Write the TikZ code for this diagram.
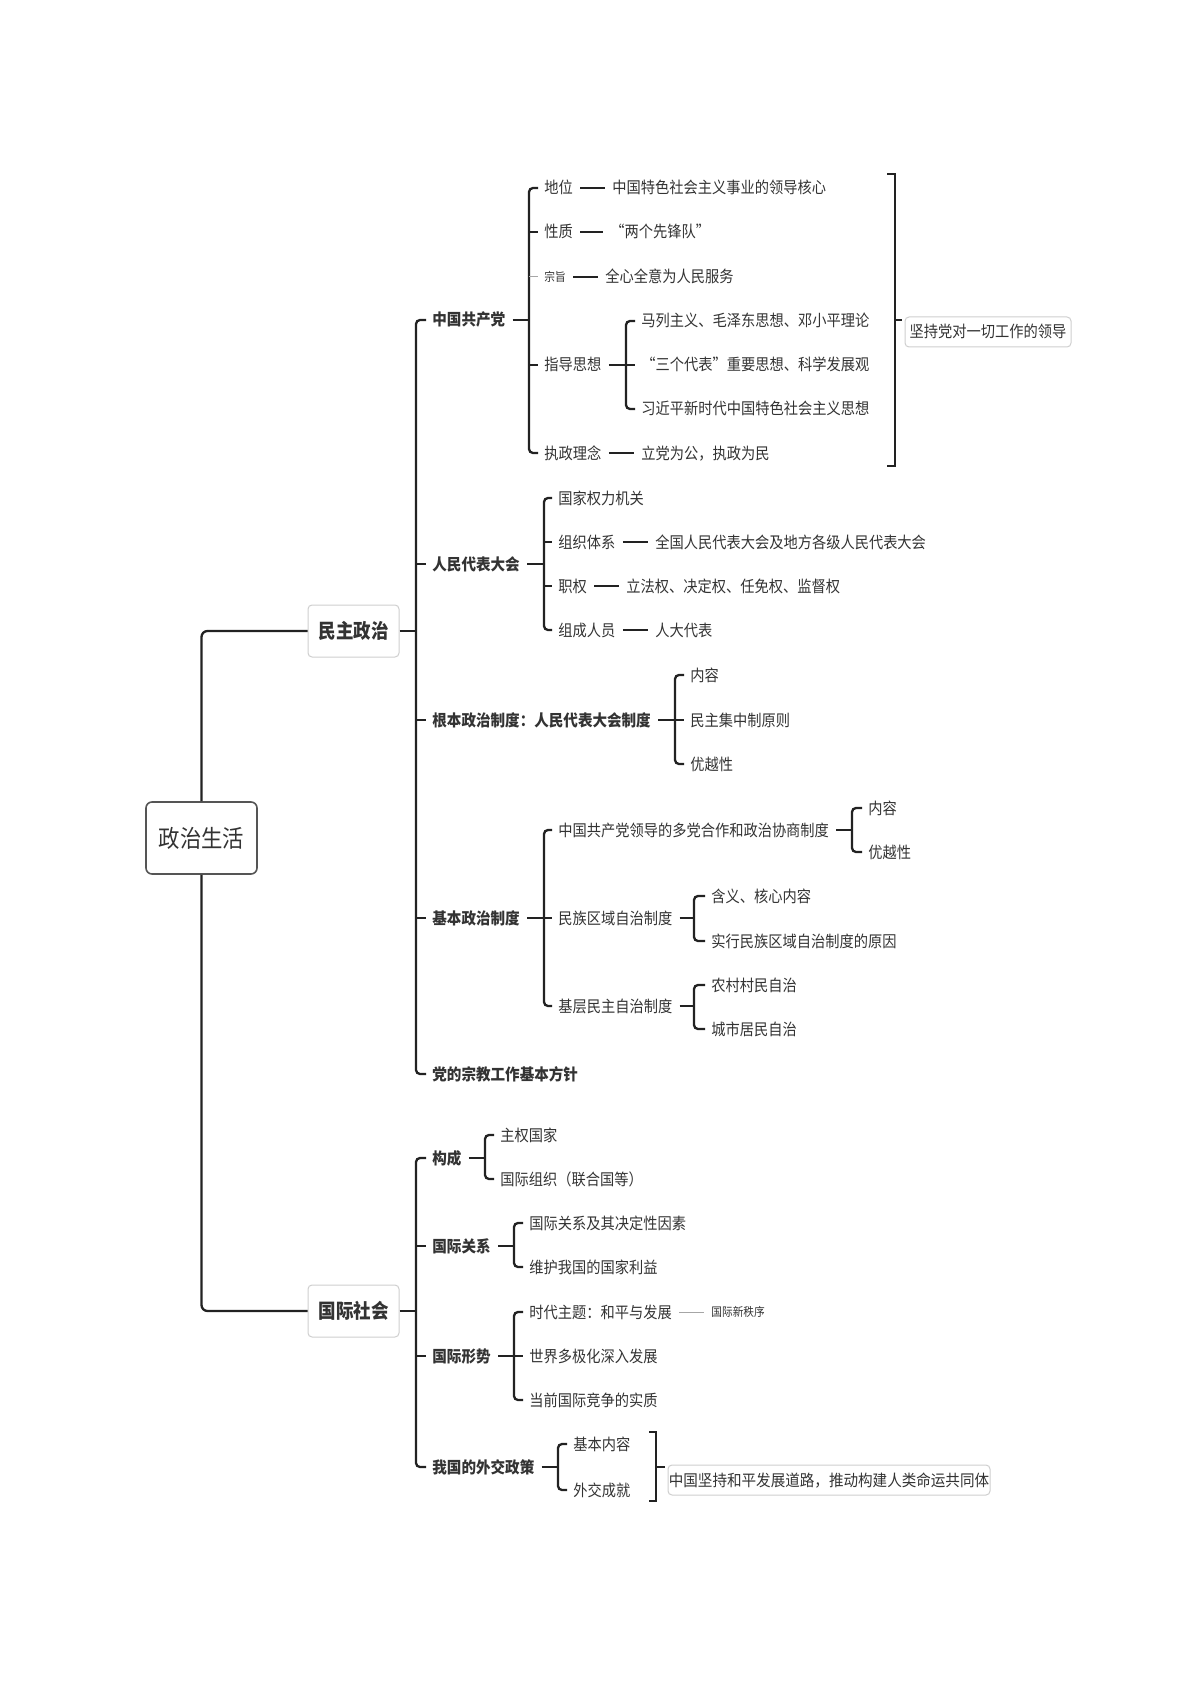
\documentclass[tikz,border=0pt]{standalone}
\usepackage{fontspec}
\usetikzlibrary{calc}
\setmainfont{Noto Sans CJK SC}[FakeStretch=0.89]
\newfontfamily\cjkw{Noto Sans CJK SC}[FakeStretch=0.91]
\newfontfamily\cjkh{Noto Sans CJK SC}[FakeStretch=0.875]
\definecolor{txt}{HTML}{333333}
\definecolor{lc}{HTML}{222222}
\definecolor{bgr}{HTML}{CFCFCF}
\definecolor{rootc}{HTML}{555555}
\newcommand{\mmBr}[3]{\draw[conn] ([xshift=-3pt]#1.west) -- (#1.west -| #3) -- (#2.west -| #3) -- ([xshift=-3pt]#2.west);}
\newcommand{\mmStub}[2]{\draw[conn] (#1.west -| #2) -- ([xshift=-3pt]#1.west);}
\newcommand{\mmPar}[2]{\draw[conn] ([xshift=3.5pt]#1.east) -- (#1.east -| #2);}
\newcommand{\mmLink}[2]{\draw[conn] ([xshift=3.5pt]#1.east) -- ([xshift=-3.5pt]#2.west);}
\begin{document}
\begin{tikzpicture}[x=0.5pt,y=-0.5pt,
  lab/.style={anchor=west, inner sep=0pt, text=txt, font=\fontsize{8}{10}\selectfont, text height=6.4pt, text depth=0.4pt},
  bl/.style={lab, font=\cjkw\bfseries\fontsize{8}{10}\selectfont},
  small/.style={lab, font=\fontsize{6}{7}\selectfont, text height=4.8pt, text depth=0.3pt},
  hub/.style={draw=bgr, fill=white, rounded corners=2pt, line width=0.5pt, minimum width=45.5pt, minimum height=26pt, inner sep=0pt, text=txt, font=\cjkh\bfseries\fontsize{10}{12}\selectfont},
  rootbox/.style={draw=rootc, fill=white, rounded corners=3pt, line width=0.8pt, minimum width=55.5pt, minimum height=36pt, inner sep=0pt, text=txt, font=\fontsize{12}{14}\selectfont},
  note/.style={draw=bgr, fill=white, rounded corners=2pt, line width=0.5pt, inner sep=0pt, minimum height=15pt, text=txt, font=\fontsize{8}{10}\selectfont, text height=6.4pt, text depth=0.4pt},
  conn/.style={draw=lc, line width=1.15pt, rounded corners=2pt},
  thinl/.style={draw=gray!70, line width=0.5pt}
]
\fill[white] (0,0) rectangle (1191,1684);
\path[use as bounding box] (0,0) rectangle (1191,1684);

% bracket coordinates
\coordinate (V1) at (416,0);
\coordinate (V2) at (416,0);
\coordinate (B1) at (529,0);
\coordinate (B14) at (626,0);
\coordinate (B2) at (544,0);
\coordinate (B3) at (675,0);
\coordinate (B4) at (544,0);
\coordinate (B41) at (852,0);
\coordinate (B42) at (694,0);
\coordinate (B43) at (694,0);
\coordinate (B5) at (485,0);
\coordinate (B6) at (514,0);
\coordinate (B7) at (514,0);
\coordinate (B8) at (558,0);

% root and hubs
\node[rootbox] (root) at (201.5,838) {政治生活};
\node[hub] (m1) at (353.5,631) {民主政治};
\node[hub] (m2) at (353.5,1311) {国际社会};

% level 1 under 民主政治
\node[bl] (a1) at (432,320) {中国共产党};
\node[bl] (a2) at (432,564) {人民代表大会};
\node[bl] (a3) at (432,720) {根本政治制度：人民代表大会制度};
\node[bl] (a4) at (432,918) {基本政治制度};
\node[bl] (a5) at (432,1074) {党的宗教工作基本方针};

% 中国共产党
\node[lab] (b11) at (544,188) {地位};
\node[lab] (b12) at (544,232) {性质};
\node[small] (b13) at (544,277) {宗旨};
\node[lab] (b14) at (544,365) {指导思想};
\node[lab] (b15) at (544,453) {执政理念};
\node[lab] (c11) at (612,188) {中国特色社会主义事业的领导核心};
\node[lab] (c12) at (610,232) {“两个先锋队”};
\node[lab] (c13) at (605,277) {全心全意为人民服务};
\node[lab] (c14a) at (641,321) {马列主义、毛泽东思想、邓小平理论};
\node[lab] (c14b) at (641,365) {“三个代表”重要思想、科学发展观};
\node[lab] (c14c) at (641,409) {习近平新时代中国特色社会主义思想};
\node[lab] (c15) at (641,453) {立党为公，执政为民};
\node[note, minimum width=83pt] (n1) at (988,332) {坚持党对一切工作的领导};

% 人民代表大会
\node[lab] (b21) at (558,498) {国家权力机关};
\node[lab] (b22) at (558,542) {组织体系};
\node[lab] (b23) at (558,586) {职权};
\node[lab] (b24) at (558,630) {组成人员};
\node[lab] (c22) at (655,542) {全国人民代表大会及地方各级人民代表大会};
\node[lab] (c23) at (626,586) {立法权、决定权、任免权、监督权};
\node[lab] (c24) at (655,630) {人大代表};

% 根本政治制度
\node[lab] (b31) at (690,675) {内容};
\node[lab] (b32) at (690,720) {民主集中制原则};
\node[lab] (b33) at (690,764) {优越性};

% 基本政治制度
\node[lab] (b41) at (558,830) {中国共产党领导的多党合作和政治协商制度};
\node[lab] (b42) at (558,918) {民族区域自治制度};
\node[lab] (b43) at (558,1006) {基层民主自治制度};
\node[lab] (c411) at (868,808) {内容};
\node[lab] (c412) at (868,852) {优越性};
\node[lab] (c421) at (711,896) {含义、核心内容};
\node[lab] (c422) at (711,941) {实行民族区域自治制度的原因};
\node[lab] (c431) at (711,985) {农村村民自治};
\node[lab] (c432) at (711,1029) {城市居民自治};

% 国际社会
\node[bl] (d1) at (432,1158) {构成};
\node[bl] (d2) at (432,1246) {国际关系};
\node[bl] (d3) at (432,1356) {国际形势};
\node[bl] (d4) at (432,1467) {我国的外交政策};
\node[lab] (e11) at (500,1135) {主权国家};
\node[lab] (e12) at (500,1179) {国际组织（联合国等）};
\node[lab] (e21) at (529,1223) {国际关系及其决定性因素};
\node[lab] (e22) at (529,1267) {维护我国的国家利益};
\node[lab] (e31) at (529,1312) {时代主题：和平与发展};
\node[lab] (e32) at (529,1356) {世界多极化深入发展};
\node[lab] (e33) at (529,1400) {当前国际竞争的实质};
\node[small] (f31) at (711,1312) {国际新秩序};
\node[lab] (e41) at (573,1444) {基本内容};
\node[lab] (e42) at (573,1490) {外交成就};
\node[note, minimum width=161pt, font=\cjkw\fontsize{8}{10}\selectfont] (n2) at (829,1480) {中国坚持和平发展道路，推动构建人类命运共同体};

% ---------- connectors ----------
\draw[conn, rounded corners=3pt] (root.north) |- (m1.west);
\draw[conn, rounded corners=3pt] (root.south) |- (m2.west);

% 民主政治 main bracket
\draw[conn] (m1.east) -- (m1.east -| V1);
\mmBr{a1}{a5}{V1}
\mmStub{a2}{V1}
\mmStub{a3}{V1}
\mmStub{a4}{V1}

% 中国共产党
\mmPar{a1}{B1}
\mmBr{b11}{b15}{B1}
\mmStub{b12}{B1}
\draw[thinl] (b13.west -| B1) -- ([xshift=-3pt]b13.west);
\mmStub{b14}{B1}
\mmLink{b11}{c11}
\mmLink{b12}{c12}
\mmLink{b13}{c13}
\mmLink{b15}{c15}
\draw[conn] ([xshift=3.5pt]b14.east) -- (b14.east -| B14);
\mmBr{c14a}{c14c}{B14}
\mmStub{c14b}{B14}
\draw[conn, sharp corners] (887,174) -- (895,174) -- (895,466) -- (887,466);
\coordinate (R1) at (895,320);
\draw[conn] (R1) -- ($(R1 -| n1.west)+(-3,0)$);

% 人民代表大会
\mmPar{a2}{B2}
\mmBr{b21}{b24}{B2}
\mmStub{b22}{B2}
\mmStub{b23}{B2}
\mmLink{b22}{c22}
\mmLink{b23}{c23}
\mmLink{b24}{c24}

% 根本政治制度
\mmPar{a3}{B3}
\mmBr{b31}{b33}{B3}
\mmStub{b32}{B3}

% 基本政治制度
\mmPar{a4}{B4}
\mmBr{b41}{b43}{B4}
\mmStub{b42}{B4}
\mmPar{b41}{B41}
\mmBr{c411}{c412}{B41}
\mmPar{b42}{B42}
\mmBr{c421}{c422}{B42}
\mmPar{b43}{B43}
\mmBr{c431}{c432}{B43}

% 国际社会 main bracket
\draw[conn] (m2.east) -- (m2.east -| V2);
\mmBr{d1}{d4}{V2}
\mmStub{d2}{V2}
\mmStub{d3}{V2}

\mmPar{d1}{B5}
\mmBr{e11}{e12}{B5}
\mmPar{d2}{B6}
\mmBr{e21}{e22}{B6}
\mmPar{d3}{B7}
\mmBr{e31}{e33}{B7}
\mmStub{e32}{B7}
\draw[thinl] ([xshift=3.5pt]e31.east) -- ([xshift=-3.5pt]f31.west);
\mmPar{d4}{B8}
\mmBr{e41}{e42}{B8}
\draw[conn, sharp corners] (649,1432) -- (656,1432) -- (656,1501) -- (649,1501);
\coordinate (R2) at (656,1467);
\draw[conn] (R2) -- ($(R2 -| n2.west)+(-3,0)$);
\end{tikzpicture}
\end{document}
